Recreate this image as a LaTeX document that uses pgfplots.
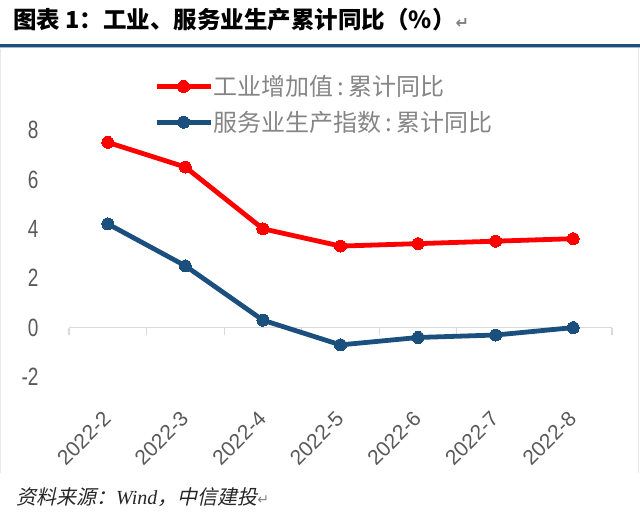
\documentclass[border=0pt]{standalone}
\usepackage{fontspec}
\usepackage{graphicx}
\usepackage{pgfplots}
\pgfplotsset{compat=1.18}
\setmainfont{Liberation Sans}
\newfontfamily\cjk{Noto Sans CJK SC}
\newfontfamily\cjkit{Noto Sans CJK SC}[FakeSlant=0.22]
\newfontfamily\serifit{Liberation Serif Italic}
\newfontfamily\sym{DejaVu Sans}
\definecolor{rulebl}{HTML}{1F4E79}
\definecolor{serblue}{HTML}{1B4F7D}
\definecolor{serred}{HTML}{FF0000}
\definecolor{ticktxt}{HTML}{595959}
\definecolor{legtxt}{HTML}{858585}
\definecolor{zeroln}{HTML}{D9D9D9}
\begin{document}
\begin{tikzpicture}
\useasboundingbox (0pt,0pt) rectangle (640pt,-525pt);
% title
\node[anchor=west, inner sep=0pt, font=\cjk\bfseries\fontsize{23.5}{27}\selectfont] at (13pt,-20pt)
  {图表 1：工业、服务业生产累计同比（\%）{\color{gray}\sym\fontsize{16}{18}\selectfont ↵}};
\fill[rulebl] (0pt,-44pt) rectangle (640pt,-47pt);
\draw[rulebl!40, line width=0.6pt] (0pt,-47.6pt) -- (640pt,-47.6pt);
% faint frame sides
\draw[gray!18, line width=0.8pt] (0.5pt,-49pt) -- (0.5pt,-473pt);
\draw[gray!18, line width=0.8pt] (638.5pt,-49pt) -- (638.5pt,-473pt);
% source
\node[anchor=west, inner sep=0pt, font=\cjkit\fontsize{20}{24}\selectfont, text=black!85] at (16pt,-497pt)
  {资料来源：{\serifit Wind}，中信建投{\color{gray}\sym\fontsize{14}{16}\selectfont ↵}};
\begin{axis}[
  at={(69pt,-377pt)}, anchor=south west,
  scale only axis, width=543pt, height=247pt,
  xmin=-0.5, xmax=6.5, ymin=-2, ymax=8,
  clip=false,
  axis line style={draw=none},
  major tick length=0pt,
  xtick={0,1,2,3,4,5,6},
  xticklabels={2022-2,2022-3,2022-4,2022-5,2022-6,2022-7,2022-8},
  ytick={-2,0,2,4,6,8},
  /pgf/number format/assume math mode=true,
  yticklabel={\scalebox{0.95}[1.25]{\pgfmathprintnumber{\tick}}},
  tick label style={font=\fontsize{20}{24}\selectfont, text=ticktxt},
  yticklabel style={anchor=east, xshift=-27pt},
  xticklabel style={font=\fontsize{21}{25}\selectfont, xshift=-6pt, yshift=-28pt, anchor=north east, rotate=45},
  legend style={draw=none, fill=none, at={(0.151,1.233)}, anchor=north west,
    font=\cjk\fontsize{24}{28}\selectfont, text=legtxt, row sep=12pt,
    nodes={inner sep=1pt}},
  legend cell align=left,
  legend image code/.code={\draw[mark repeat=2, mark phase=2, #1] plot coordinates {(0pt,0pt) (27pt,0pt) (54pt,0pt)};},
]
\draw[zeroln, line width=1.6pt] (axis cs:-0.5,0) -- (axis cs:6.5,0);
\draw[zeroln, line width=1.2pt] (axis cs:-0.5,0) -- ++(0pt,-7pt);
\draw[zeroln, line width=1.2pt] (axis cs:0.5,0) -- ++(0pt,-7pt);
\draw[zeroln, line width=1.2pt] (axis cs:1.5,0) -- ++(0pt,-7pt);
\draw[zeroln, line width=1.2pt] (axis cs:2.5,0) -- ++(0pt,-7pt);
\draw[zeroln, line width=1.2pt] (axis cs:3.5,0) -- ++(0pt,-7pt);
\draw[zeroln, line width=1.2pt] (axis cs:4.5,0) -- ++(0pt,-7pt);
\draw[zeroln, line width=1.2pt] (axis cs:5.5,0) -- ++(0pt,-7pt);
\draw[zeroln, line width=1.2pt] (axis cs:6.5,0) -- ++(0pt,-7pt);
\addplot[serred, line width=4.8pt, mark=*, mark size=6pt, mark options={solid, fill=serred, draw=serred, line width=0pt}]
  coordinates {(0,7.5) (1,6.5) (2,4.0) (3,3.3) (4,3.4) (5,3.5) (6,3.6)};
\addlegendentry{工业增加值\,:\,累计同比}
\addplot[serblue, line width=4.8pt, mark=*, mark size=6pt, mark options={solid, fill=serblue, draw=serblue, line width=0pt}]
  coordinates {(0,4.2) (1,2.5) (2,0.3) (3,-0.7) (4,-0.4) (5,-0.3) (6,0.0)};
\addlegendentry{服务业生产指数\,:\,累计同比}
\end{axis}
\end{tikzpicture}
\end{document}
